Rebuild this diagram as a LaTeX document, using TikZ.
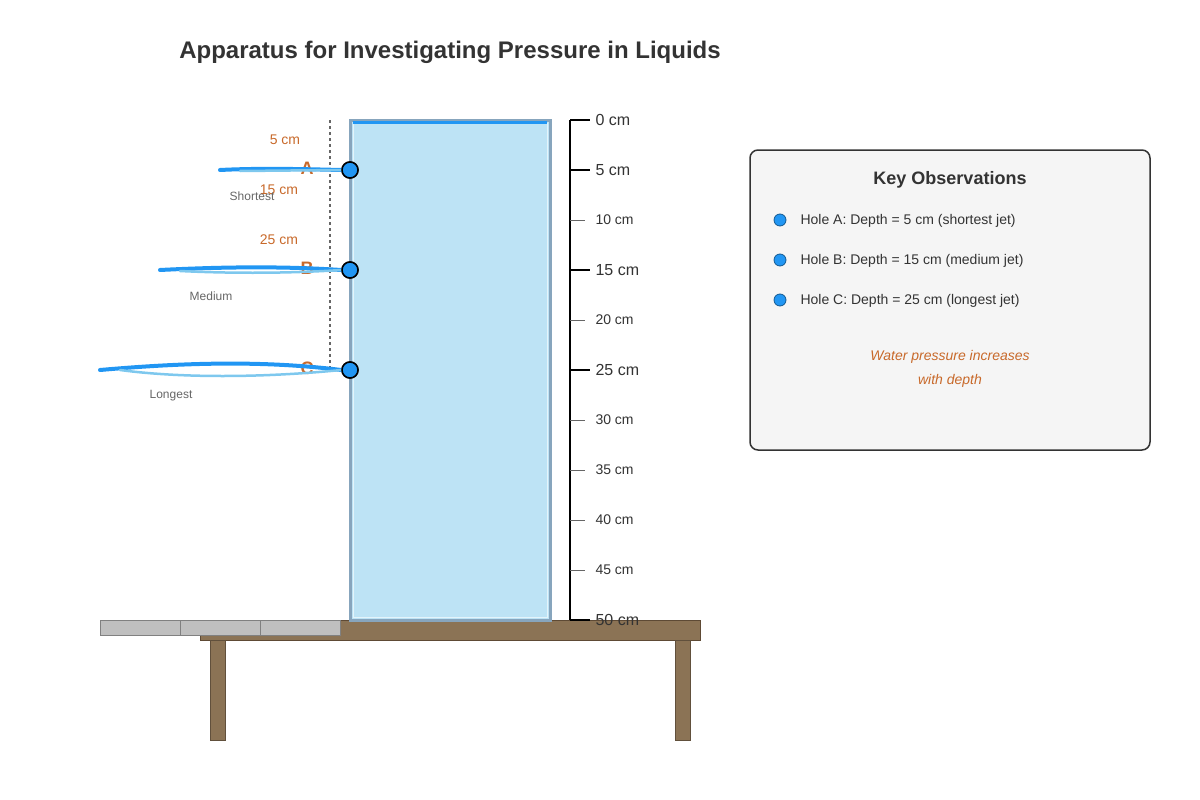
\documentclass[tikz,border=0pt]{standalone}
\usepackage{fontspec}
\setmainfont{Liberation Sans}
\usetikzlibrary{positioning}
\definecolor{water}{HTML}{BDE3F5}
\definecolor{glass}{HTML}{87A5BD}
\definecolor{jet}{HTML}{2196F3}
\definecolor{jetlight}{HTML}{7EC8EE}
\definecolor{rust}{HTML}{C8692A}
\definecolor{wood}{HTML}{8B7355}
\definecolor{wooddark}{HTML}{5E4A35}
\definecolor{ink}{HTML}{333333}
\tikzset{
  hole/.style={circle,fill=jet,draw=black,line width=1.5pt,inner sep=0pt,minimum size=16pt},
  dot/.style={circle,fill=jet,draw=jet!60!black,line width=0.8pt,inner sep=0pt,minimum size=12pt},
  depth/.style={text=rust,font=\fontsize{14}{16}\selectfont},
  letter/.style={text=rust,font=\fontsize{18}{20}\selectfont\bfseries},
  tag/.style={text=black!60,font=\fontsize{12}{14}\selectfont},
  major/.style={text=ink,font=\fontsize{16}{18}\selectfont,anchor=west},
  minor/.style={text=ink,font=\fontsize{14}{16}\selectfont,anchor=west},
  obs/.style={text=ink,font=\fontsize{14}{16}\selectfont,anchor=west},
  jetdark/.style={jet,line width=4pt,line cap=round},
  jetpale/.style={jetlight,line width=2.5pt,line cap=round}
}
\begin{document}
\begin{tikzpicture}[x=1pt,y=-1pt]
  \useasboundingbox (0,0) rectangle (1200,800);
  \node[text=ink,font=\fontsize{24}{28}\selectfont\bfseries] (title) at (450,52) {Apparatus for Investigating Pressure in Liquids};

  % table and ruler
  \draw[fill=wood,draw=wooddark,line width=1pt] (200,620) rectangle (700,640);
  \draw[fill=wood,draw=wood!70!black,line width=0.5pt] (210,640) rectangle (225,740);
  \draw[fill=wood,draw=wood!70!black,line width=0.5pt] (675,640) rectangle (690,740);
  \foreach \x in {100,180,260}
    \draw[fill=black!25,draw=black!50,line width=0.8pt] (\x,620) rectangle ++(80,15);

  % tank
  \draw[fill=water,draw=glass,line width=3pt] (350,120) rectangle (550,620);
  \draw[white!60!water,line width=0.8pt] (353,123) rectangle (547,617);
  \draw[jet,line width=3pt] (353,122) -- (547,122);

  % scale
  \draw[black,line width=1.5pt] (570,120) -- (570,620);
  \foreach \d in {0,5,15,25,50} {
    \draw[black,line width=1.5pt] (570,120+10*\d) -- (590,120+10*\d);
    \node[major] at (592,120+10*\d) {\d\ cm};
  }
  \foreach \d in {10,20,30,35,40,45} {
    \draw[black!60,line width=1pt] (570,120+10*\d) -- (585,120+10*\d);
    \node[minor] at (592,120+10*\d) {\d\ cm};
  }

  \draw[black!60,dashed,line width=1.2pt] (330,120) -- (330,370);
  \node[depth] (dA) at (285,140) {5 cm};
  \node[depth] (dB) at (279,190) {15 cm};
  \node[depth] (dC) at (279,240) {25 cm};
  \node[letter] (lA) at (307,168) {A};
  \node[letter] (lB) at (307,268) {B};
  \node[letter] (lC) at (307,368) {C};

  % jets
  \node[hole] (hA) at (350,170) {};
  \node[hole] (hB) at (350,270) {};
  \node[hole] (hC) at (350,370) {};
  \coordinate (eA) at (220,170);
  \coordinate (eB) at (160,270);
  \coordinate (eC) at (100,370);
  \draw[jetdark] (hA.west) .. controls (300,169) and (260,168) .. (eA);
  \draw[jetpale] (hA.west) -- (240,171);
  \draw[jetdark] (hB.west) .. controls (280,266) and (220,267) .. (eB);
  \draw[jetpale] (hB.west) .. controls (280,274) and (220,273) .. (180,271);
  \draw[jetdark] (hC.west) .. controls (260,360) and (180,363) .. (eC);
  \draw[jetpale] (hC.west) .. controls (260,378) and (180,378) .. (120,370);
  \node[hole] at (hA) {};
  \node[hole] at (hB) {};
  \node[hole] at (hC) {};
  \node[tag] at (252,196) {Shortest};
  \node[tag] at (211,296) {Medium};
  \node[tag] at (171,396) {Longest};

  % observations
  \draw[fill=black!4,draw=ink,line width=1.5pt,rounded corners=8pt] (750,150) rectangle (1150,450);
  \node[text=ink,font=\fontsize{18}{20}\selectfont\bfseries] (key) at (950,180) {Key Observations};
  \node[dot] (o1) at (780,220) {};
  \node[dot] (o2) at (780,260) {};
  \node[dot] (o3) at (780,300) {};
  \node[obs] at (797,221) {Hole A: Depth = 5 cm (shortest jet)};
  \node[obs] at (797,261) {Hole B: Depth = 15 cm (medium jet)};
  \node[obs] at (797,301) {Hole C: Depth = 25 cm (longest jet)};
  \node[text=rust,font=\fontsize{14}{16}\selectfont\itshape,align=center] at (950,369)
    {Water pressure increases\\[8pt]with depth};
\end{tikzpicture}
\end{document}
